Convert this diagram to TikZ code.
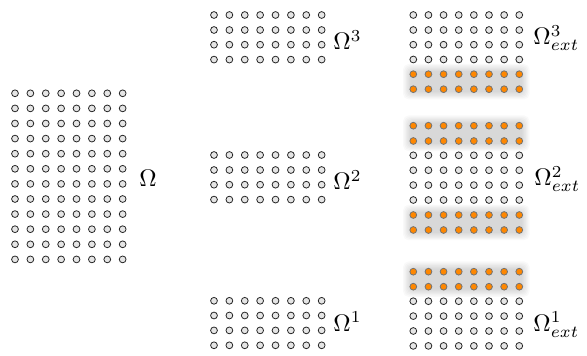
\documentclass[tikz,border=0pt]{standalone}
\tikzset{
  wdot/.style={draw=black!85, fill=black!10, line width=0.6pt},
  odot/.style={draw=black!55, fill=orange!95!red!90!yellow, line width=0.6pt},
  lbl/.style={inner sep=0pt, anchor=base west, scale=1.8},
  shade/.style={black, opacity=0.022}
}
\newcommand\drow[4]{%
  \foreach \i in {0,...,7} {\draw[#4] (#1+\i*#2, #3) circle[radius=2.55pt];}}
\newcommand\sband[4]{% x1 y1 x2 y2 (dot centres)
  \foreach \k in {0,1.2,...,7.2} {\fill[shade, rounded corners=4pt] (#1-3-\k, #2-3-\k) rectangle (#3+3+\k, #4+3+\k);}}
\begin{document}
\begin{tikzpicture}[x=0.75pt, y=-0.75pt]
  \useasboundingbox (0,0) rectangle (587,356);
  % left grid
  \foreach \j in {0,...,11} {\drow{15}{15.38}{93.3+\j*15.1}{wdot}}
  \node[lbl] (om) at (139,187) {$\Omega$};
  % middle grids
  \foreach \y in {15,30,44.7,59.6} {\drow{214}{15.38}{\y}{wdot}}
  \node[lbl] (om3) at (333,50) {$\Omega^3$};
  \foreach \y in {155,170,184.7,199.6} {\drow{214}{15.38}{\y}{wdot}}
  \node[lbl] (om2) at (333,190) {$\Omega^2$};
  \foreach \y in {300.8,315.5,330.4,345.3} {\drow{214}{15.38}{\y}{wdot}}
  \node[lbl] (om1) at (333,331.5) {$\Omega^1$};
  % right grids: shadows
  \sband{413.3}{74.2}{519.3}{89.2}
  \sband{413.3}{125.7}{519.3}{141}
  \sband{413.3}{215}{519.3}{230}
  \sband{413.3}{271.7}{519.3}{286.7}
  % right grid 3
  \foreach \y in {15,30,44.7,59.5} {\drow{413.3}{15.14}{\y}{wdot}}
  \foreach \y in {74.2,89.2} {\drow{413.3}{15.14}{\y}{odot}}
  \node[lbl] (e3) at (533,45) {$\Omega^3_{ext}$};
  % right grid 2
  \foreach \y in {125.7,141} {\drow{413.3}{15.14}{\y}{odot}}
  \foreach \y in {155.3,170.2,185.1,200} {\drow{413.3}{15.14}{\y}{wdot}}
  \foreach \y in {215,230} {\drow{413.3}{15.14}{\y}{odot}}
  \node[lbl] (e2) at (534,186) {$\Omega^2_{ext}$};
  % right grid 1
  \foreach \y in {271.7,286.7} {\drow{413.3}{15.14}{\y}{odot}}
  \foreach \y in {301.2,316.1,331,345.9} {\drow{413.3}{15.14}{\y}{wdot}}
  \node[lbl] (e1) at (533,331.5) {$\Omega^1_{ext}$};
\end{tikzpicture}
\end{document}
